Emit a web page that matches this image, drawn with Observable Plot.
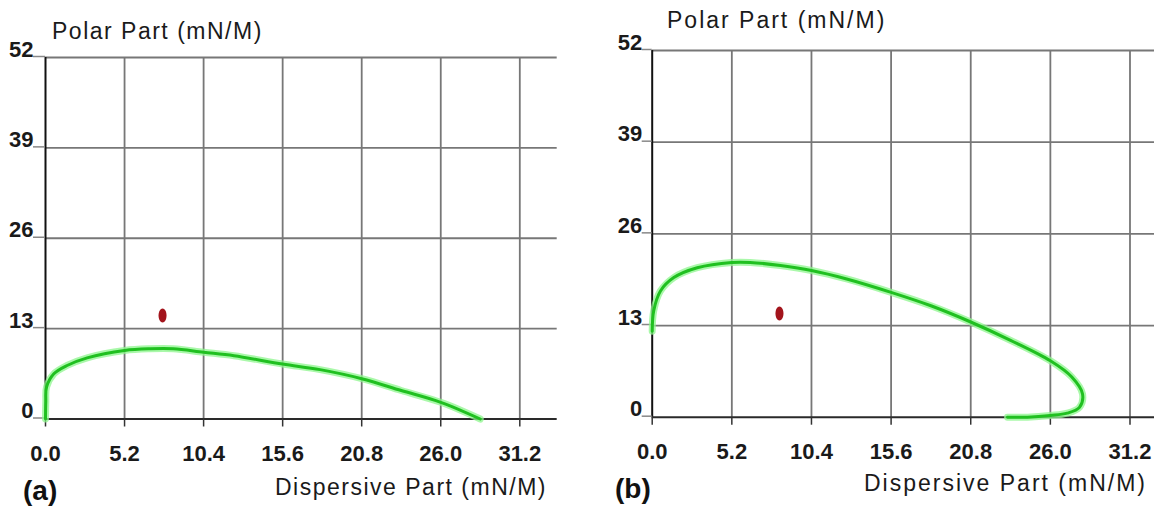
<!DOCTYPE html>
<html><head><meta charset="utf-8">
<script src="https://cdn.jsdelivr.net/npm/d3@7"></script>
<script src="https://cdn.jsdelivr.net/npm/@observablehq/plot@0.6"></script>
<style>
body{margin:0;background:#fff;}
#wrap{position:relative;width:1154px;height:510px;overflow:hidden;background:#fff;font-family:"Liberation Sans",Arial,sans-serif;}
.panel{position:absolute;top:0;}
.lbl{position:absolute;white-space:nowrap;line-height:1;color:#1a1a1a;font-size:23px;}
.tag{position:absolute;white-space:nowrap;line-height:1;color:#111;font-size:28px;font-weight:bold;}
</style></head><body><div id="wrap"></div>
<script>
// Tick values
const xTicks = [0, 5.2, 10.4, 15.6, 20.8, 26.0, 31.2];
const yTicks = [0, 13, 26, 39, 52];

// Panel (a) wetting envelope
const envAx = [0, 0.02, 0.07, 0.55, 1.42, 2.74, 5.2, 6.9, 8.4, 10.4, 12.4, 15.6, 18.06, 20.8, 23.4, 26.0, 28.6];
const envAy = [0, 2.5, 4.6, 6.5, 7.7, 8.8, 9.86, 10.1, 10.1, 9.6, 9.1, 7.9, 7.1, 5.8, 4.1, 2.4, 0];
// Panel (b) wetting envelope
const envBx = [0.0, 0.1, 0.54, 1.41, 2.94, 5.2, 6.4, 8.38, 10.4, 12.7, 15.6, 18.2, 20.8, 23.4, 26.0, 27.4, 28.1, 27.9, 27.1, 26.0, 24.5, 23.2];
const envBy = [12.2, 15.1, 17.9, 19.8, 21.2, 21.95, 21.95, 21.5, 20.8, 19.6, 17.7, 15.8, 13.5, 10.9, 8.0, 5.7, 3.3, 1.4, 0.57, 0.24, 0.0, 0.0];
// Measured surface energy points (dispersive, polar)
const pointX = [7.7, 8.31];
const pointY = [14.9, 14.7];

const ellipse = {draw(ctx, size){
  const r = Math.sqrt(size / Math.PI), rx = r * 0.57, ry = r, k = 0.5523;
  ctx.moveTo(0, -ry);
  ctx.bezierCurveTo(k*rx, -ry, rx, -k*ry, rx, 0);
  ctx.bezierCurveTo(rx, k*ry, k*rx, ry, 0, ry);
  ctx.bezierCurveTo(-k*rx, ry, -rx, k*ry, -rx, 0);
  ctx.bezierCurveTo(-rx, -k*ry, -k*rx, -ry, 0, -ry);
  ctx.closePath();
}};

function panel(o){
  const curve = o.cx.map((x, i) => ({x, y: o.cy[i]}));
  const pt = [{x: pointX[o.idx], y: pointY[o.idx]}];
  const gridX = xTicks.filter(d => d > 0);
  const gridY = yTicks.filter(d => d > 0);
  const font = {fontSize: 22, fontWeight: "bold", fontFamily: "Liberation Sans, Arial, sans-serif", fill: "#1a1a1a"};
  return Plot.plot({
    width: o.width, height: 510,
    marginLeft: o.mL, marginRight: o.mR, marginTop: o.mT, marginBottom: o.mB,
    x: {domain: [0, o.xMax]}, y: {domain: [0, 52]},
    style: {background: "transparent", overflow: "visible"},
    marks: [
      Plot.ruleX(gridX, {y1: 0, y2: 52, stroke: "#777", strokeWidth: 1.8}),
      Plot.ruleY(gridY, {x1: 0, x2: o.xMax, stroke: "#777", strokeWidth: 1.8}),
      Plot.ruleY([0], {x1: 0, x2: o.xMax, stroke: "#2a2a2a", strokeWidth: 2}),
      Plot.ruleX([0], {y1: 0, y2: 52, stroke: "#111", strokeWidth: 2}),
      Plot.axisX(xTicks, {tickSize: 8, tickPadding: 18, tickFormat: d => d.toFixed(1), stroke: "#333", strokeWidth: 1.5, label: null, ...font}),
      Plot.axisY(yTicks, {tickSize: o.tick, tickPadding: 0, lineAnchor: "bottom", dy: -1, stroke: "#888", strokeWidth: 1.5, label: null, ...font}),
      Plot.line(curve, {x: "x", y: "y", curve: "catmull-rom", stroke: "#8ef58e", strokeWidth: 7, strokeOpacity: 0.75}),
      Plot.line(curve, {x: "x", y: "y", curve: "catmull-rom", stroke: "#20c020", strokeWidth: 3}),
      Plot.dot(pt, {x: "x", y: "y", r: 7, symbol: ellipse, fill: "#a3141c", stroke: "none"})
    ]
  });
}

const wrap = document.getElementById("wrap");
function place(el, left){ const d = document.createElement("div"); d.className = "panel"; d.style.left = left + "px"; d.appendChild(el); wrap.appendChild(d); }
place(panel({cx: envAx, cy: envAy, idx: 0, width: 577, mL: 45, mR: 20.3, mT: 57, mB: 91.5, xMax: 33.66, tick: 12}), 0);
place(panel({cx: envBx, cy: envBy, idx: 1, width: 577, mL: 74.7, mR: 0, mT: 50, mB: 93.3, xMax: 32.8, tick: 10}), 577);

function label(text, cls, left, top, ls){
  const d = document.createElement("div"); d.className = cls; d.textContent = text;
  d.style.left = left + "px"; d.style.top = top + "px";
  if (ls) d.style.letterSpacing = ls + "px";
  wrap.appendChild(d);
}
label("Polar Part (mN/M)", "lbl", 52, 20, 1.5);
label("Dispersive Part (mN/M)", "lbl", 275, 476, 1.5);
label("(a)", "tag", 23, 477);
label("Polar Part (mN/M)", "lbl", 667, 9, 2);
label("Dispersive Part (mN/M)", "lbl", 864, 472, 2);
label("(b)", "tag", 615, 475);
</script></body></html>
